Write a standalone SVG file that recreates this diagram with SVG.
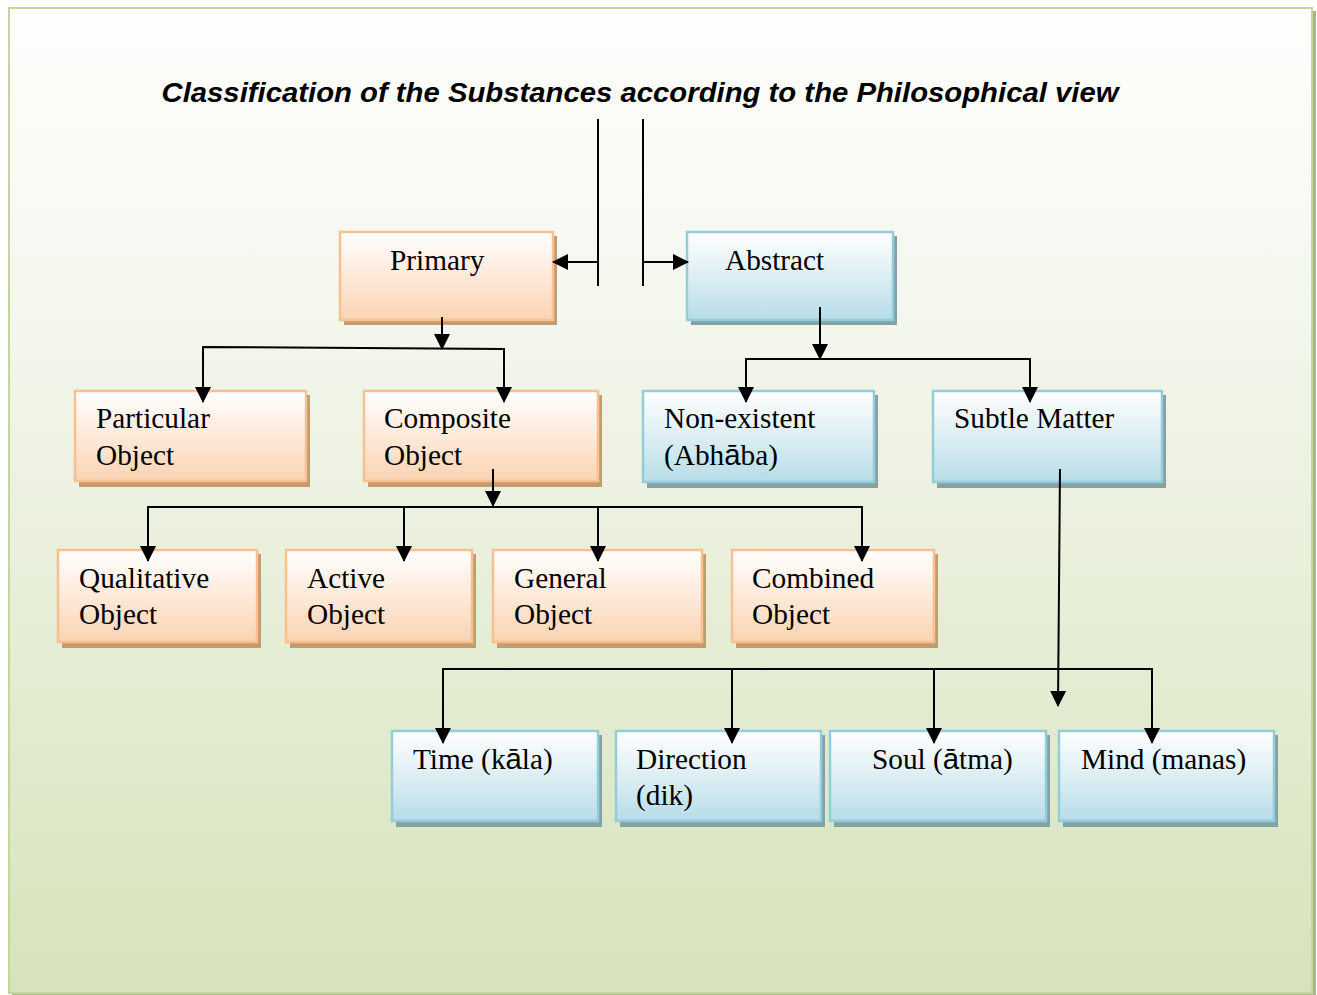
<svg xmlns="http://www.w3.org/2000/svg" width="1317" height="995" viewBox="0 0 1317 995">
<defs>
  <linearGradient id="bg" x1="0" y1="0" x2="0" y2="1">
    <stop offset="0" stop-color="#fefefc"/>
    <stop offset="0.3" stop-color="#f4f7ee"/>
    <stop offset="1" stop-color="#d6e3bb"/>
  </linearGradient>
  <linearGradient id="og" x1="0" y1="0" x2="0" y2="1">
    <stop offset="0" stop-color="#ffffff"/>
    <stop offset="0.6" stop-color="#fde5d2"/>
    <stop offset="1" stop-color="#fbd3b2"/>
  </linearGradient>
  <linearGradient id="bgr" x1="0" y1="0" x2="0" y2="1">
    <stop offset="0" stop-color="#ffffff"/>
    <stop offset="0.6" stop-color="#d5ebf1"/>
    <stop offset="1" stop-color="#b7dce7"/>
  </linearGradient>
  <marker id="ah" viewBox="0 0 16 16" refX="15" refY="8" markerWidth="16" markerHeight="16" markerUnits="userSpaceOnUse" orient="auto">
    <path d="M0,0 L16,8 L0,16 Z" fill="#000"/>
  </marker>
</defs>
<style>
  .os { fill: #c49b70; }
  .bs { fill: #84a1a4; }
  .o { fill: url(#og); stroke: #f9c08f; stroke-width: 2.5; }
  .b { fill: url(#bgr); stroke: #92cddc; stroke-width: 2.5; }
  .t { font-family: "Liberation Serif", "Times New Roman", serif; font-size: 29.3px; fill: #000; }
  .s { font-family: "Liberation Sans", Arial, sans-serif; }
  .c { fill: none; stroke: #000; stroke-width: 2; }
  .a { marker-end: url(#ah); }
</style>

<rect x="0" y="0" width="1317" height="995" fill="#ffffff"/>
<rect x="12" y="11" width="1304" height="984" fill="#a9b78e"/>
<rect x="9" y="8" width="1303" height="985" fill="url(#bg)" stroke="#c3d69b" stroke-width="2"/>

<text x="640" y="102" text-anchor="middle" textLength="957" lengthAdjust="spacingAndGlyphs" style="font-family:'Liberation Sans',Arial,sans-serif;font-size:27px;font-weight:bold;font-style:italic;fill:#000">Classification of the Substances according to the Philosophical view</text>

<g id="primary"><rect class="os" x="344" y="236" width="213" height="89"/><rect class="o" x="340" y="232" width="213" height="88"/><text class="t" x="390" y="270">Primary</text></g>
<g id="abstract"><rect class="bs" x="691" y="236" width="206" height="89"/><rect class="b" x="687" y="232" width="206" height="88"/><text class="t" x="725" y="270">Abstract</text></g>

<g id="particular"><rect class="os" x="79" y="395" width="231" height="92"/><rect class="o" x="75" y="391" width="231" height="90"/><text class="t" x="96" y="428">Particular</text><text class="t" x="96" y="465">Object</text></g>
<g id="composite"><rect class="os" x="368" y="395" width="234" height="92"/><rect class="o" x="364" y="391" width="234" height="90"/><text class="t" x="384" y="428">Composite</text><text class="t" x="384" y="465">Object</text></g>
<g id="nonexistent"><rect class="bs" x="647" y="395" width="231" height="93"/><rect class="b" x="643" y="391" width="231" height="91"/><text class="t" x="664" y="428">Non-existent</text><text class="t" x="664" y="465">(Abh<tspan class="s">ā</tspan>ba)</text></g>
<g id="subtle"><rect class="bs" x="937" y="395" width="229" height="93"/><rect class="b" x="933" y="391" width="229" height="91"/><text class="t" x="954" y="428">Subtle Matter</text></g>

<g id="qualitative"><rect class="os" x="62" y="554" width="199" height="94"/><rect class="o" x="58" y="550" width="199" height="92"/><text class="t" x="79" y="588">Qualitative</text><text class="t" x="79" y="624">Object</text></g>
<g id="active"><rect class="os" x="290" y="554" width="186" height="94"/><rect class="o" x="286" y="550" width="186" height="92"/><text class="t" x="307" y="588">Active</text><text class="t" x="307" y="624">Object</text></g>
<g id="general"><rect class="os" x="497" y="554" width="209" height="94"/><rect class="o" x="493" y="550" width="209" height="92"/><text class="t" x="514" y="588">General</text><text class="t" x="514" y="624">Object</text></g>
<g id="combined"><rect class="os" x="736" y="554" width="202" height="94"/><rect class="o" x="732" y="550" width="202" height="92"/><text class="t" x="752" y="588">Combined</text><text class="t" x="752" y="624">Object</text></g>

<g id="time"><rect class="bs" x="396" y="735" width="206" height="92"/><rect class="b" x="392" y="731" width="206" height="90"/><text class="t" x="413" y="769">Time (k<tspan class="s">ā</tspan>la)</text></g>
<g id="direction"><rect class="bs" x="620" y="735" width="205" height="92"/><rect class="b" x="616" y="731" width="205" height="90"/><text class="t" x="636" y="769">Direction</text><text class="t" x="636" y="805">(dik)</text></g>
<g id="soul"><rect class="bs" x="834" y="735" width="216" height="92"/><rect class="b" x="830" y="731" width="216" height="90"/><text class="t" x="872" y="769">Soul (<tspan class="s">ā</tspan>tma)</text></g>
<g id="mind"><rect class="bs" x="1063" y="735" width="215" height="92"/><rect class="b" x="1059" y="731" width="215" height="90"/><text class="t" x="1081" y="769">Mind (manas)</text></g>

<g id="connectors">
  <line class="c" x1="598" y1="119" x2="598" y2="286"/>
  <line class="c" x1="643" y1="119" x2="643" y2="286"/>
  <line class="c a" x1="598" y1="262" x2="553" y2="262"/>
  <line class="c a" x1="643" y1="262" x2="688" y2="262"/>

  <line class="c a" x1="442" y1="317" x2="442" y2="349"/>
  <polyline class="c" points="203,358 203,347 504,349 504,358"/>
  <line class="c a" x1="203" y1="347" x2="203" y2="402"/>
  <line class="c a" x1="504" y1="349" x2="504" y2="402"/>

  <line class="c a" x1="820" y1="307" x2="820" y2="359"/>
  <polyline class="c" points="746,370 746,359 1030,359 1030,370"/>
  <line class="c a" x1="746" y1="359" x2="746" y2="402"/>
  <line class="c a" x1="1030" y1="359" x2="1030" y2="402"/>

  <line class="c a" x1="493" y1="469" x2="493" y2="506"/>
  <polyline class="c" points="148,520 148,507 862,507 862,520"/>
  <line class="c a" x1="148" y1="507" x2="148" y2="561"/>
  <line class="c a" x1="404" y1="507" x2="404" y2="561"/>
  <line class="c a" x1="598" y1="507" x2="598" y2="561"/>
  <line class="c a" x1="862" y1="507" x2="862" y2="561"/>

  <line class="c a" x1="1060" y1="469" x2="1058" y2="706"/>
  <polyline class="c" points="443,680 443,669 1152,669 1152,680"/>
  <line class="c a" x1="443" y1="669" x2="443" y2="743"/>
  <line class="c a" x1="732" y1="669" x2="732" y2="743"/>
  <line class="c a" x1="934" y1="669" x2="934" y2="743"/>
  <line class="c a" x1="1152" y1="669" x2="1152" y2="743"/>
</g>
</svg>
